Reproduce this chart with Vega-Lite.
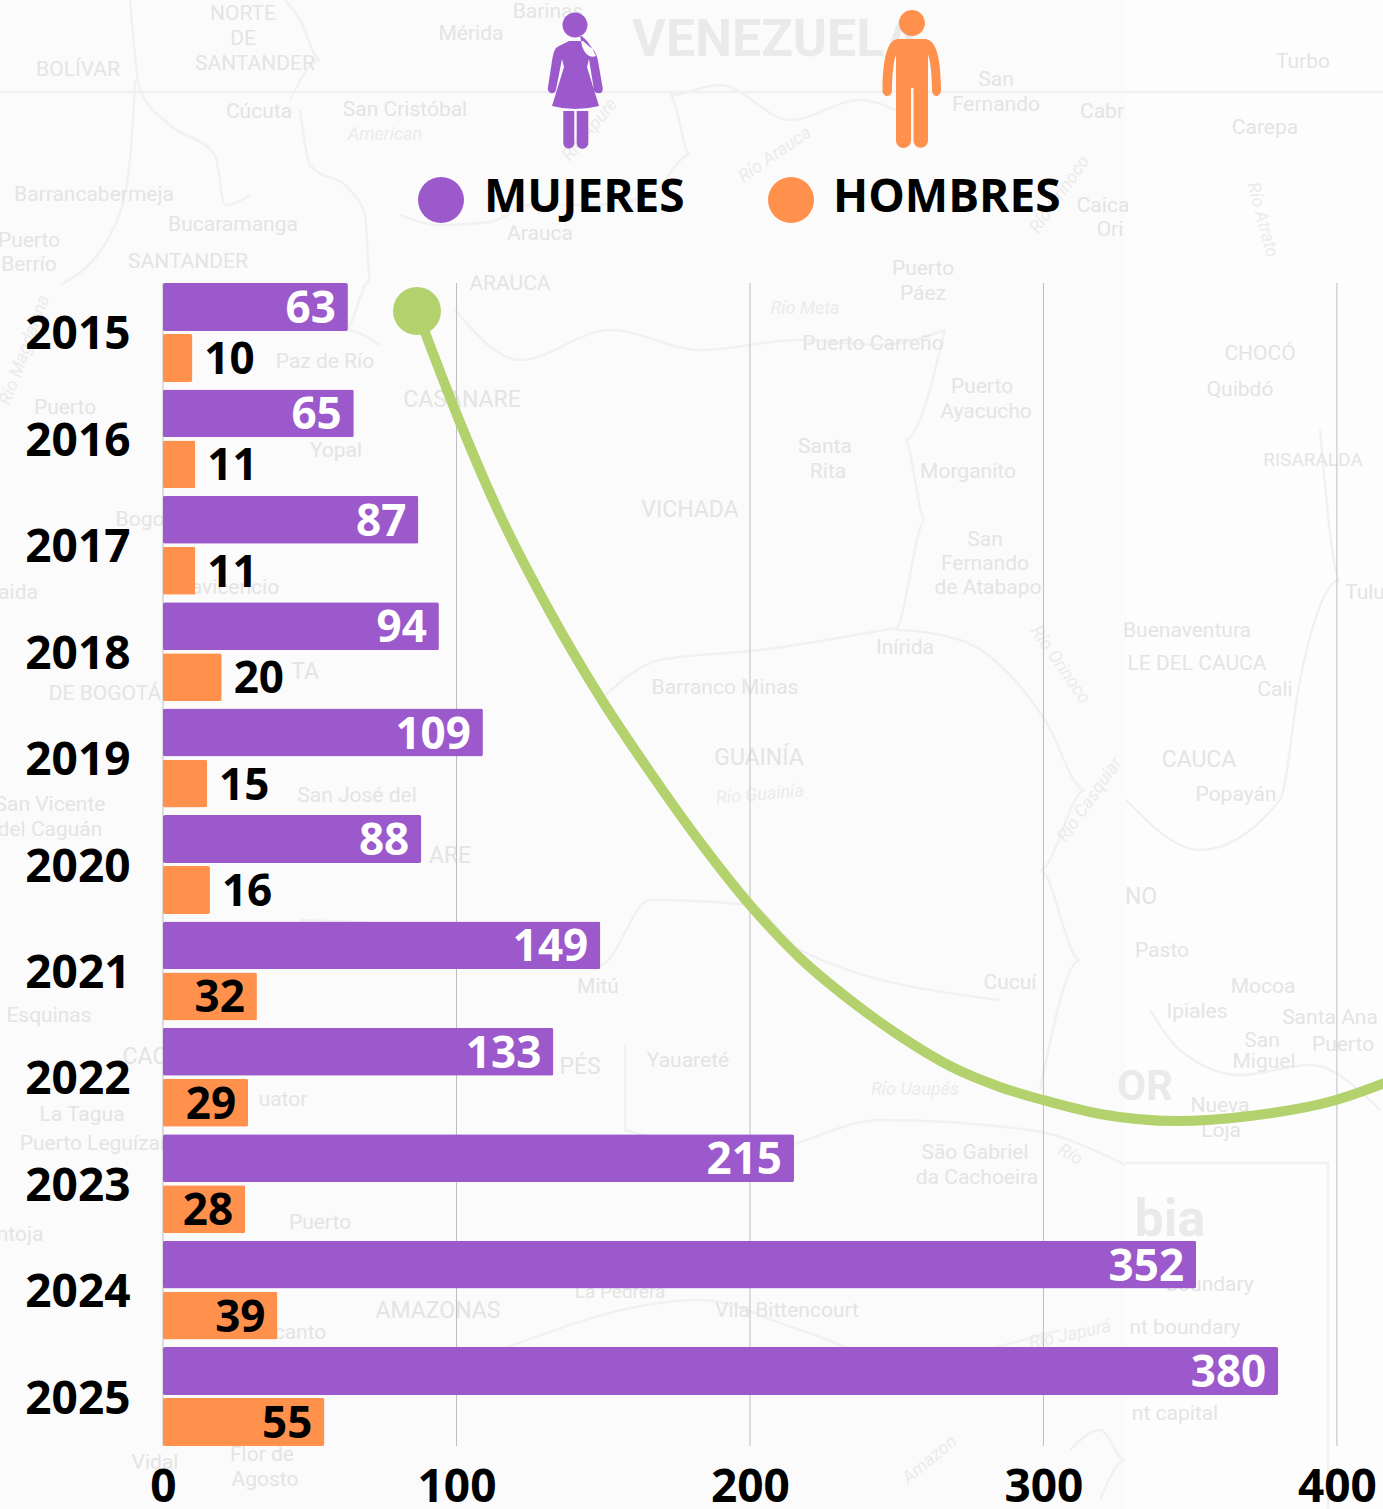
{
"$schema":"https://vega.github.io/schema/vega-lite/v6.json",
"width":1220,"height":1163,
"padding":{"left":163,"top":283,"right":0,"bottom":63},
"autosize":{"type":"none"},
"background":"#fdfdfd",
"config":{"view":{"stroke":null}},
"datasets":{
"tile":[{"x0":0,"x1":1126,"y0":0,"y1":1509}],
"grid":[{"v":0},{"v":100},{"v":200},{"v":300},{"v":400}],
"places":[
{"t":"NORTE","x":243,"y":14,"k":"p"},{"t":"DE","x":243,"y":39,"k":"p"},{"t":"SANTANDER","x":255,"y":64,"k":"p"},{"t":"BOLÍVAR","x":78,"y":70,"k":"p"},{"t":"Mérida","x":471,"y":34,"k":"p"},{"t":"Barinas","x":548,"y":12,"k":"p"},{"t":"Cúcuta","x":259,"y":112,"k":"p"},{"t":"San Cristóbal","x":405,"y":110,"k":"p"},{"t":"Barrancabermeja","x":94,"y":195,"k":"p"},{"t":"Bucaramanga","x":233,"y":225,"k":"p"},{"t":"Puerto","x":29,"y":241,"k":"p"},{"t":"Berrío","x":29,"y":265,"k":"p"},{"t":"SANTANDER","x":188,"y":262,"k":"p"},{"t":"Arauca","x":540,"y":234,"k":"p"},{"t":"ARAUCA","x":510,"y":284,"k":"p"},{"t":"San","x":996,"y":80,"k":"p"},{"t":"Fernando","x":996,"y":105,"k":"p"},{"t":"Cabr","x":1102,"y":112,"k":"p"},{"t":"Turbo","x":1303,"y":62,"k":"p"},{"t":"Carepa","x":1265,"y":128,"k":"p"},{"t":"Caica","x":1103,"y":206,"k":"p"},{"t":"Ori","x":1110,"y":230,"k":"p"},{"t":"Puerto","x":923,"y":269,"k":"p"},{"t":"Páez","x":923,"y":294,"k":"p"},{"t":"Paz de Río","x":325,"y":362,"k":"p"},{"t":"Puerto Carreño","x":873,"y":344,"k":"p"},{"t":"CHOCÓ","x":1260,"y":354,"k":"p"},{"t":"Quibdó","x":1240,"y":390,"k":"p"},{"t":"RISARALDA","x":1313,"y":460,"k":"s"},{"t":"Puerto","x":65,"y":408,"k":"p"},{"t":"CASANARE","x":462,"y":400,"k":"r"},{"t":"Yopal","x":336,"y":451,"k":"p"},{"t":"Puerto","x":982,"y":387,"k":"p"},{"t":"Ayacucho","x":986,"y":412,"k":"p"},{"t":"Santa","x":825,"y":447,"k":"p"},{"t":"Rita","x":828,"y":472,"k":"p"},{"t":"Morganito","x":968,"y":472,"k":"p"},{"t":"VICHADA","x":690,"y":510,"k":"r"},{"t":"San","x":985,"y":540,"k":"p"},{"t":"Fernando","x":985,"y":564,"k":"p"},{"t":"de Atabapo","x":988,"y":588,"k":"p"},{"t":"Inírida","x":905,"y":648,"k":"p"},{"t":"Buenaventura","x":1187,"y":631,"k":"p"},{"t":"LE DEL CAUCA","x":1197,"y":664,"k":"p"},{"t":"Cali","x":1275,"y":690,"k":"p"},{"t":"Barranco Minas","x":725,"y":688,"k":"p"},{"t":"GUAINÍA","x":759,"y":758,"k":"r"},{"t":"CAUCA","x":1199,"y":760,"k":"r"},{"t":"Popayán","x":1236,"y":795,"k":"p"},{"t":"San Vicente","x":50,"y":805,"k":"p"},{"t":"del Caguán","x":50,"y":830,"k":"p"},{"t":"San José del","x":357,"y":796,"k":"p"},{"t":"DE BOGOTÁ","x":105,"y":694,"k":"p"},{"t":"Esquinas","x":49,"y":1016,"k":"p"},{"t":"Pasto","x":1162,"y":951,"k":"p"},{"t":"Mitú","x":598,"y":987,"k":"p"},{"t":"Cucuí","x":1010,"y":983,"k":"p"},{"t":"Ipiales","x":1197,"y":1012,"k":"p"},{"t":"Mocoa","x":1263,"y":987,"k":"p"},{"t":"Santa Ana","x":1330,"y":1018,"k":"p"},{"t":"Puerto","x":1343,"y":1045,"k":"p"},{"t":"San","x":1262,"y":1041,"k":"p"},{"t":"Miguel","x":1264,"y":1062,"k":"p"},{"t":"Yauareté","x":688,"y":1061,"k":"p"},{"t":"La Tagua","x":82,"y":1115,"k":"p"},{"t":"Puerto Leguízamo","x":105,"y":1144,"k":"p"},{"t":"São Gabriel","x":975,"y":1153,"k":"p"},{"t":"da Cachoeira","x":977,"y":1178,"k":"p"},{"t":"Nueva","x":1220,"y":1106,"k":"p"},{"t":"Loja","x":1221,"y":1131,"k":"p"},{"t":"Puerto","x":320,"y":1223,"k":"p"},{"t":"AMAZONAS","x":438,"y":1311,"k":"r"},{"t":"Vila Bittencourt","x":787,"y":1311,"k":"p"},{"t":"La Pedrera","x":620,"y":1292,"k":"s"},{"t":"boundary","x":1210,"y":1285,"k":"p"},{"t":"nt boundary","x":1185,"y":1328,"k":"p"},{"t":"nt capital","x":1175,"y":1414,"k":"p"},{"t":"Flor de","x":262,"y":1455,"k":"p"},{"t":"Agosto","x":265,"y":1480,"k":"p"},{"t":"Vidal","x":155,"y":1463,"k":"p"},{"t":"ntoja","x":20,"y":1235,"k":"p"},{"t":"NO","x":1141,"y":897,"k":"r"},{"t":"TA","x":305,"y":672,"k":"r"},{"t":"PÉS","x":580,"y":1067,"k":"r"},{"t":"ARE","x":450,"y":856,"k":"r"},{"t":"Bogo","x":140,"y":520,"k":"p"},{"t":"avicencio","x":235,"y":588,"k":"p"},{"t":"aida","x":18,"y":593,"k":"p"},{"t":"Tulu","x":1365,"y":593,"k":"p"},{"t":"uator","x":283,"y":1100,"k":"p"},{"t":"canto","x":300,"y":1333,"k":"p"},{"t":"CAC","x":145,"y":1057,"k":"r"}
],
"bigPlaces":[{"t":"VENEZUELA","x":776,"y":40,"k":"c"},{"t":"bia","x":1170,"y":1220,"k":"c"},{"t":"OR","x":1145,"y":1087,"k":"g"}],
"rivers":[
{"t":"American","x":385,"y":135,"a":0},{"t":"Río Meta","x":805,"y":309,"a":0},{"t":"Río Guainía","x":760,"y":795,"a":-5},{"t":"Río Uaupés","x":915,"y":1090,"a":0},{"t":"Río Japurá","x":1070,"y":1335,"a":-12},{"t":"Río Orinoco","x":1060,"y":665,"a":55},{"t":"Río Apure","x":590,"y":130,"a":-50},{"t":"Río Arauca","x":775,"y":155,"a":-35},{"t":"Río Orinoco","x":1060,"y":195,"a":-55},{"t":"Amazon","x":930,"y":1460,"a":-40},{"t":"Río Casquiar","x":1090,"y":800,"a":-55},{"t":"Río Magdalena","x":25,"y":350,"a":-70},{"t":"Río Atrato","x":1262,"y":220,"a":75},{"t":"Río","x":1070,"y":1155,"a":30}
],
"mapLines":[
{"id":"a","o":1,"x":0,"y":92},{"id":"a","o":2,"x":1383,"y":92},
{"id":"b","o":1,"x":1126,"y":1163},{"id":"b","o":2,"x":1328,"y":1163},{"id":"b","o":3,"x":1328,"y":1509},
{"id":"c","o":1,"x":400,"y":215},{"id":"c","o":2,"x":440,"y":225},{"id":"c","o":3,"x":490,"y":222},{"id":"c","o":4,"x":530,"y":205},{"id":"c","o":5,"x":590,"y":205},{"id":"c","o":6,"x":650,"y":195},{"id":"c","o":7,"x":690,"y":155},{"id":"c","o":8,"x":670,"y":95},{"id":"c","o":9,"x":720,"y":85},{"id":"c","o":10,"x":790,"y":120},{"id":"c","o":11,"x":860,"y":100},{"id":"c","o":12,"x":905,"y":115},
{"id":"d","o":1,"x":290,"y":100},{"id":"d","o":2,"x":320,"y":60},{"id":"d","o":3,"x":300,"y":20},{"id":"d","o":4,"x":285,"y":0},
{"id":"e","o":1,"x":300,"y":110},{"id":"e","o":2,"x":310,"y":165},{"id":"e","o":3,"x":350,"y":190},{"id":"e","o":4,"x":365,"y":215},{"id":"e","o":5,"x":370,"y":280},{"id":"e","o":6,"x":345,"y":330},{"id":"e","o":7,"x":380,"y":345},
{"id":"f","o":1,"x":130,"y":0},{"id":"f","o":2,"x":140,"y":90},{"id":"f","o":3,"x":170,"y":125},{"id":"f","o":4,"x":215,"y":155},{"id":"f","o":5,"x":225,"y":205},{"id":"f","o":6,"x":250,"y":195},
{"id":"g","o":1,"x":60,"y":285},{"id":"g","o":2,"x":115,"y":225},{"id":"g","o":3,"x":130,"y":160},{"id":"g","o":4,"x":135,"y":80},
{"id":"h","o":1,"x":455,"y":310},{"id":"h","o":2,"x":520,"y":360},{"id":"h","o":3,"x":610,"y":330},{"id":"h","o":4,"x":700,"y":350},{"id":"h","o":5,"x":800,"y":340},{"id":"h","o":6,"x":880,"y":345},{"id":"h","o":7,"x":945,"y":330},
{"id":"i","o":1,"x":945,"y":330},{"id":"i","o":2,"x":905,"y":440},{"id":"i","o":3,"x":925,"y":520},{"id":"i","o":4,"x":895,"y":630},{"id":"i","o":5,"x":960,"y":640},{"id":"i","o":6,"x":1045,"y":720},{"id":"i","o":7,"x":1085,"y":790},{"id":"i","o":8,"x":1040,"y":870},{"id":"i","o":9,"x":1080,"y":960},{"id":"i","o":10,"x":1040,"y":1090},
{"id":"j","o":1,"x":600,"y":700},{"id":"j","o":2,"x":660,"y":660},{"id":"j","o":3,"x":760,"y":650},{"id":"j","o":4,"x":895,"y":628},
{"id":"k","o":1,"x":300,"y":920},{"id":"k","o":2,"x":450,"y":930},{"id":"k","o":3,"x":600,"y":965},{"id":"k","o":4,"x":650,"y":900},{"id":"k","o":5,"x":750,"y":905},{"id":"k","o":6,"x":800,"y":950},{"id":"k","o":7,"x":1000,"y":1000},
{"id":"l","o":1,"x":625,"y":1045},{"id":"l","o":2,"x":625,"y":1130},{"id":"l","o":3,"x":760,"y":1150},{"id":"l","o":4,"x":880,"y":1120},{"id":"l","o":5,"x":1030,"y":1130},{"id":"l","o":6,"x":1126,"y":1165},
{"id":"m","o":1,"x":1126,"y":800},{"id":"m","o":2,"x":1200,"y":850},{"id":"m","o":3,"x":1280,"y":800},{"id":"m","o":4,"x":1300,"y":680},{"id":"m","o":5,"x":1340,"y":580},{"id":"m","o":6,"x":1320,"y":430},
{"id":"n","o":1,"x":1150,"y":1010},{"id":"n","o":2,"x":1180,"y":1050},{"id":"n","o":3,"x":1240,"y":1075},{"id":"n","o":4,"x":1310,"y":1065},{"id":"n","o":5,"x":1380,"y":1110},
{"id":"o","o":1,"x":1060,"y":1330},{"id":"o","o":2,"x":900,"y":1360},{"id":"o","o":3,"x":800,"y":1330},{"id":"o","o":4,"x":700,"y":1300},{"id":"o","o":5,"x":500,"y":1350},
{"id":"p","o":1,"x":1070,"y":1450},{"id":"p","o":2,"x":1100,"y":1430},{"id":"p","o":3,"x":1125,"y":1460},{"id":"p","o":4,"x":1100,"y":1500}
],
"curve":[
{"x":417,"y":311},{"x":457,"y":415},{"x":500,"y":515},{"x":550,"y":612},{"x":600,"y":697},{"x":650,"y":772},{"x":700,"y":842},{"x":750,"y":905},{"x":800,"y":958},{"x":850,"y":1000},{"x":900,"y":1036},{"x":950,"y":1066},{"x":1000,"y":1087},{"x":1043,"y":1100},{"x":1100,"y":1114},{"x":1177,"y":1121},{"x":1250,"y":1116},{"x":1336,"y":1100},{"x":1390,"y":1081}
],
"bars":[
{"year":"2015","sexo":"Mujeres","casos":63},{"year":"2015","sexo":"Hombres","casos":10},
{"year":"2016","sexo":"Mujeres","casos":65},{"year":"2016","sexo":"Hombres","casos":11},
{"year":"2017","sexo":"Mujeres","casos":87},{"year":"2017","sexo":"Hombres","casos":11},
{"year":"2018","sexo":"Mujeres","casos":94},{"year":"2018","sexo":"Hombres","casos":20},
{"year":"2019","sexo":"Mujeres","casos":109},{"year":"2019","sexo":"Hombres","casos":15},
{"year":"2020","sexo":"Mujeres","casos":88},{"year":"2020","sexo":"Hombres","casos":16},
{"year":"2021","sexo":"Mujeres","casos":149},{"year":"2021","sexo":"Hombres","casos":32},
{"year":"2022","sexo":"Mujeres","casos":133},{"year":"2022","sexo":"Hombres","casos":29},
{"year":"2023","sexo":"Mujeres","casos":215},{"year":"2023","sexo":"Hombres","casos":28},
{"year":"2024","sexo":"Mujeres","casos":352},{"year":"2024","sexo":"Hombres","casos":39},
{"year":"2025","sexo":"Mujeres","casos":380},{"year":"2025","sexo":"Hombres","casos":55}
],
"legendDots":[{"x":441,"y":200,"sexo":"Mujeres"},{"x":791,"y":200,"sexo":"Hombres"}],
"legendText":[{"x":484,"y":198,"t":"MUJERES"},{"x":833,"y":198,"t":"HOMBRES"}],
"womanIcon":[{"x":575,"y":81}],
"manIcon":[{"x":912,"y":80}],
"startDot":[{"x":417,"y":311}]
},
"resolve":{"scale":{"x":"independent","y":"independent","color":"independent","size":"independent","yOffset":"independent"}},
"layer":[
{"data":{"name":"tile"},"mark":{"type":"rect","fill":"#fbfbfb"},
"encoding":{"x":{"field":"x0","type":"quantitative","scale":{"domain":[163,1383],"nice":false,"zero":false},"axis":null},"x2":{"field":"x1"},"y":{"field":"y0","type":"quantitative","scale":{"domain":[1446,283],"nice":false,"zero":false},"axis":null},"y2":{"field":"y1"}}},
{"data":{"name":"mapLines"},"mark":{"type":"line","stroke":"#f1f1f1","strokeWidth":2.5,"interpolate":"monotone"},
"encoding":{"x":{"field":"x","type":"quantitative","scale":{"domain":[163,1383],"nice":false,"zero":false},"axis":null},"y":{"field":"y","type":"quantitative","scale":{"domain":[1446,283],"nice":false,"zero":false},"axis":null},"detail":{"field":"id"},"order":{"field":"o"}}},
{"data":{"name":"places"},"mark":{"type":"text","font":"Roboto","color":"#e4e4e4","baseline":"middle","align":"center"},
"encoding":{"x":{"field":"x","type":"quantitative","scale":{"domain":[163,1383],"nice":false,"zero":false},"axis":null},"y":{"field":"y","type":"quantitative","scale":{"domain":[1446,283],"nice":false,"zero":false},"axis":null},"text":{"field":"t"},"size":{"field":"k","type":"nominal","legend":null,"scale":{"domain":["s","p","r"],"range":[19,23,31]}}}},
{"data":{"name":"bigPlaces"},"mark":{"type":"text","font":"Roboto","fontWeight":"bold","color":"#eaeaea","baseline":"middle","align":"center"},
"encoding":{"x":{"field":"x","type":"quantitative","scale":{"domain":[163,1383],"nice":false,"zero":false},"axis":null},"y":{"field":"y","type":"quantitative","scale":{"domain":[1446,283],"nice":false,"zero":false},"axis":null},"text":{"field":"t"},"size":{"field":"k","type":"nominal","legend":null,"scale":{"domain":["c","g"],"range":[52,42]}}}},
{"data":{"name":"rivers"},"mark":{"type":"text","font":"Roboto","fontStyle":"italic","fontSize":18,"color":"#ebebeb","baseline":"middle","align":"center"},
"encoding":{"x":{"field":"x","type":"quantitative","scale":{"domain":[163,1383],"nice":false,"zero":false},"axis":null},"y":{"field":"y","type":"quantitative","scale":{"domain":[1446,283],"nice":false,"zero":false},"axis":null},"text":{"field":"t"},"angle":{"field":"a","type":"quantitative","scale":null}}},
{"data":{"name":"grid"},"mark":{"type":"rule","color":"#bdbdbd","strokeWidth":1},
"encoding":{"x":{"field":"v","type":"quantitative","scale":{"domain":[0,415.7],"nice":false},"axis":null}}},
{"data":{"name":"curve"},"mark":{"type":"line","stroke":"#b3d26e","strokeWidth":10,"interpolate":"monotone"},
"encoding":{"x":{"field":"x","type":"quantitative","scale":{"domain":[163,1383],"nice":false,"zero":false},"axis":null},"y":{"field":"y","type":"quantitative","scale":{"domain":[1446,283],"nice":false,"zero":false},"axis":null}}},
{"data":{"name":"startDot"},"mark":{"type":"point","filled":true,"opacity":1,"color":"#b3d26e","size":2304,"shape":"circle"},
"encoding":{"x":{"field":"x","type":"quantitative","scale":{"domain":[163,1383],"nice":false,"zero":false},"axis":null},"y":{"field":"y","type":"quantitative","scale":{"domain":[1446,283],"nice":false,"zero":false},"axis":null}}},
{"data":{"name":"bars"},"mark":{"type":"bar","cornerRadius":2},
"encoding":{
"x":{"field":"casos","type":"quantitative","scale":{"domain":[0,415.7],"nice":false},
"axis":{"values":[0,100,200,300,400],"title":null,"domain":false,"ticks":false,"grid":false,"zindex":1,"labelFont":"Open Sans","labelFontWeight":"bold","labelFontSize":46,"labelColor":"#000000","labelPadding":19,"labelFlush":false,"labelOverlap":false}},
"y":{"field":"year","type":"nominal","scale":{"domain":["2015","2016","2017","2018","2019","2020","2021","2022","2023","2024","2025"],"paddingInner":0.07,"paddingOuter":0},
"axis":{"title":null,"domain":false,"ticks":false,"zindex":1,"labelFont":"Open Sans","labelFontWeight":"bold","labelFontSize":46,"labelColor":"#000000","labelPadding":33,"labelOffset":3}},
"yOffset":{"field":"sexo","type":"nominal","scale":{"domain":["Mujeres","Hombres"],"paddingInner":0.06,"paddingOuter":0}},
"color":{"field":"sexo","type":"nominal","legend":null,"scale":{"domain":["Mujeres","Hombres"],"range":["#9b59cb","#ff914d"]}}}},
{"data":{"name":"bars"},"transform":[{"filter":"datum.sexo === 'Mujeres'"}],
"mark":{"type":"text","font":"Open Sans","fontWeight":"bold","fontSize":44,"color":"#ffffff","align":"right","baseline":"middle","dx":-12,"dy":27},
"encoding":{"x":{"field":"casos","type":"quantitative","scale":{"domain":[0,415.7],"nice":false},"axis":null},
"y":{"field":"year","type":"nominal","axis":null,"scale":{"domain":["2015","2016","2017","2018","2019","2020","2021","2022","2023","2024","2025"],"paddingInner":0.07,"paddingOuter":0}},
"yOffset":{"field":"sexo","type":"nominal","scale":{"domain":["Mujeres","Hombres"],"paddingInner":0.06,"paddingOuter":0}},
"text":{"field":"casos","type":"quantitative"}}},
{"data":{"name":"bars"},"transform":[{"filter":"datum.sexo === 'Hombres' && datum.casos <= 20"}],
"mark":{"type":"text","font":"Open Sans","fontWeight":"bold","fontSize":44,"color":"#000000","align":"left","baseline":"middle","dx":12,"dy":-21},
"encoding":{"x":{"field":"casos","type":"quantitative","scale":{"domain":[0,415.7],"nice":false},"axis":null},
"y":{"field":"year","type":"nominal","axis":null,"scale":{"domain":["2015","2016","2017","2018","2019","2020","2021","2022","2023","2024","2025"],"paddingInner":0.07,"paddingOuter":0}},
"yOffset":{"field":"sexo","type":"nominal","scale":{"domain":["Mujeres","Hombres"],"paddingInner":0.06,"paddingOuter":0}},
"text":{"field":"casos","type":"quantitative"}}},
{"data":{"name":"bars"},"transform":[{"filter":"datum.sexo === 'Hombres' && datum.casos > 20"}],
"mark":{"type":"text","font":"Open Sans","fontWeight":"bold","fontSize":44,"color":"#000000","align":"right","baseline":"middle","dx":-12,"dy":-21},
"encoding":{"x":{"field":"casos","type":"quantitative","scale":{"domain":[0,415.7],"nice":false},"axis":null},
"y":{"field":"year","type":"nominal","axis":null,"scale":{"domain":["2015","2016","2017","2018","2019","2020","2021","2022","2023","2024","2025"],"paddingInner":0.07,"paddingOuter":0}},
"yOffset":{"field":"sexo","type":"nominal","scale":{"domain":["Mujeres","Hombres"],"paddingInner":0.06,"paddingOuter":0}},
"text":{"field":"casos","type":"quantitative"}}},
{"data":{"name":"legendDots"},"mark":{"type":"point","filled":true,"opacity":1,"size":2116,"shape":"circle"},
"encoding":{"x":{"field":"x","type":"quantitative","scale":{"domain":[163,1383],"nice":false,"zero":false},"axis":null},"y":{"field":"y","type":"quantitative","scale":{"domain":[1446,283],"nice":false,"zero":false},"axis":null},
"color":{"field":"sexo","type":"nominal","legend":null,"scale":{"domain":["Mujeres","Hombres"],"range":["#9b59cb","#ff914d"]}}}},
{"data":{"name":"legendText"},"mark":{"type":"text","font":"Open Sans","fontWeight":"bold","fontSize":46,"color":"#000000","align":"left","baseline":"middle"},
"encoding":{"x":{"field":"x","type":"quantitative","scale":{"domain":[163,1383],"nice":false,"zero":false},"axis":null},"y":{"field":"y","type":"quantitative","scale":{"domain":[1446,283],"nice":false,"zero":false},"axis":null},"text":{"field":"t"}}},
{"data":{"name":"womanIcon"},"mark":{"type":"point","filled":true,"opacity":1,"color":"#9b59cb","size":4,
"shape":"M-12.5,-56a12.5,12.5 0 1,0 25,0a12.5,12.5 0 1,0 -25,0Z M-6,-40L-16,-35C-21,-33 -22,-26 -23,-20L-27,6C-28,11 -24,13 -22,12C-20,12 -19,10 -18.5,6L-13,-22L-11,-14L-23,25Q0,31 24,25L12,-14L14,-22L18.5,6C19,10 20,12 23,12C26,13 28.500,11 27.500,6L23,-20C22,-26 20,-31 15,-34L8,-40Z M5,-46C12,-42 18,-32 21,-25C15,-22 9,-28 7,-35Z M-11.700,30H-0.700V62A5.500,5.500 0 0 1 -11.700,62Z M1.700,30H13.300V62A5.800,5.800 0 0 1 1.700,62Z"},
"encoding":{"x":{"field":"x","type":"quantitative","scale":{"domain":[163,1383],"nice":false,"zero":false},"axis":null},"y":{"field":"y","type":"quantitative","scale":{"domain":[1446,283],"nice":false,"zero":false},"axis":null}}},
{"data":{"name":"manIcon"},"mark":{"type":"point","filled":true,"opacity":1,"color":"#ff914d","size":4,
"shape":"M-13,-57a13,13 0 1,0 26,0a13,13 0 1,0 -26,0Z M-14,-41H13C24,-41 29,-22 29,10C29,14 26,16 24.500,16C22,16 20,13 20,10C20,0 19,-18 16,-25V60.500A7.250,7.250 0 0 1 1.500,60.500V8H-1V60.500A7.500,7.500 0 0 1 -16,60.500V-25C-19,-18 -20,0 -20,10C-20,13 -22,16 -24.500,16C-27,16 -29.500,14 -29.500,10C-29.500,-22 -24,-41 -14,-41Z"},
"encoding":{"x":{"field":"x","type":"quantitative","scale":{"domain":[163,1383],"nice":false,"zero":false},"axis":null},"y":{"field":"y","type":"quantitative","scale":{"domain":[1446,283],"nice":false,"zero":false},"axis":null}}}
]
}
